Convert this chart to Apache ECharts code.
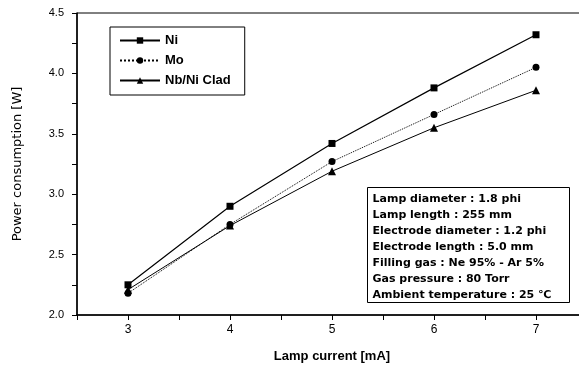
<!DOCTYPE html>
<html>
<head>
<meta charset="utf-8">
<script src="https://cdn.jsdelivr.net/npm/echarts@6/dist/echarts.min.js"></script>
<style>
  html, body { margin: 0; padding: 0; background: #fff; }
  #chart { width: 579px; height: 368px; }
</style>
</head>
<body>
<div id="chart"></div>
<script>
// 数据
var current = [3, 4, 5, 6, 7];
var ni = [2.25, 2.90, 3.42, 3.88, 4.32];
var mo = [2.18, 2.75, 3.27, 3.66, 4.05];
var nbClad = [2.21, 2.74, 3.19, 3.55, 3.86];
var yTicks = ['2.0', '2.5', '3.0', '3.5', '4.0', '4.5'];
var notes = [
  'Lamp diameter : 1.8 phi',
  'Lamp length : 255 mm',
  'Electrode diameter : 1.2 phi',
  'Electrode length : 5.0 mm',
  'Filling gas : Ne 95% - Ar 5%',
  'Gas pressure : 80 Torr',
  'Ambient temperature : 25 \u2103'
];

function pairs(ys) {
  return current.map(function (x, i) { return [x, ys[i]]; });
}

var myChart = echarts.init(document.getElementById('chart'));
var font = 'Liberation Sans, Arial, sans-serif';

var option = {
  animation: false,
  backgroundColor: '#fff',
  grid: {
    left: 77, top: 13, width: 510, bottom: 53,
    outerBoundsMode: 'none', containLabel: false,
    show: true, borderColor: '#000', borderWidth: 1
  },
  xAxis: {
    type: 'value', min: 2.5, max: 7.5, interval: 0.5,
    name: 'Lamp current [mA]', nameLocation: 'middle', nameGap: 35,
    nameTextStyle: { fontFamily: font, fontSize: 13, fontWeight: 'bold', color: '#000' },
    axisLine: { lineStyle: { color: '#000', width: 1.5 } },
    axisTick: { show: true, length: 5, lineStyle: { color: '#000' } },
    axisLabel: {
      fontFamily: font, fontSize: 12, color: '#000', margin: 9,
      formatter: function (v) { return Number.isInteger(v) && v >= 3 ? String(v) : ''; }
    },
    splitLine: { show: false }
  },
  yAxis: {
    type: 'value', min: 2.0, max: 4.5, interval: 0.25,
    name: 'Power consumption [W]', nameLocation: 'middle', nameGap: 53,
    nameTextStyle: { fontFamily: 'DejaVu Sans', fontSize: 13, color: '#000' },
    axisLine: { lineStyle: { color: '#000', width: 1.5 } },
    axisTick: { show: true, length: 5, lineStyle: { color: '#000' } },
    axisLabel: {
      fontFamily: font, fontSize: 11, color: '#000', margin: 13,
      formatter: function (v) {
        var i = Math.round((v - 2) / 0.5);
        return Math.abs(v - 2 - i * 0.5) < 1e-6 ? yTicks[i] : '';
      }
    },
    splitLine: { show: false }
  },
  legend: {
    orient: 'vertical', left: 110, top: 27,
    itemWidth: 40, itemHeight: 8, itemGap: 7,
    padding: [7, 14, 8, 9],
    borderColor: '#000', borderWidth: 1,
    textStyle: { fontFamily: font, fontSize: 13, fontWeight: 'bold', color: '#000' },
    data: ['Ni', 'Mo', 'Nb/Ni Clad']
  },
  graphic: [{
    type: 'group', left: 367, top: 187,
    children: [{
      type: 'rect', shape: { x: 0, y: 0, width: 202, height: 115 },
      style: { fill: '#fff', stroke: '#000', lineWidth: 1 }
    }, {
      type: 'text', x: 5, y: 4,
      style: {
        text: notes.join('\n'), fill: '#000',
        font: 'bold 11px DejaVu Sans', lineHeight: 16
      }
    }]
  }],
  series: [{
    name: 'Ni', type: 'line', data: pairs(ni),
    symbol: 'rect', symbolSize: 7,
    lineStyle: { color: '#000', width: 1.2 }, itemStyle: { color: '#000' }
  }, {
    name: 'Mo', type: 'line', data: pairs(mo),
    symbol: 'circle', symbolSize: 7,
    lineStyle: { color: '#000', width: 1, type: 'dotted' }, itemStyle: { color: '#000' }
  }, {
    name: 'Nb/Ni Clad', type: 'line', data: pairs(nbClad),
    symbol: 'triangle', symbolSize: 8,
    lineStyle: { color: '#000', width: 1 }, itemStyle: { color: '#000' }
  }]
};

myChart.setOption(option);
</script>
</body>
</html>
